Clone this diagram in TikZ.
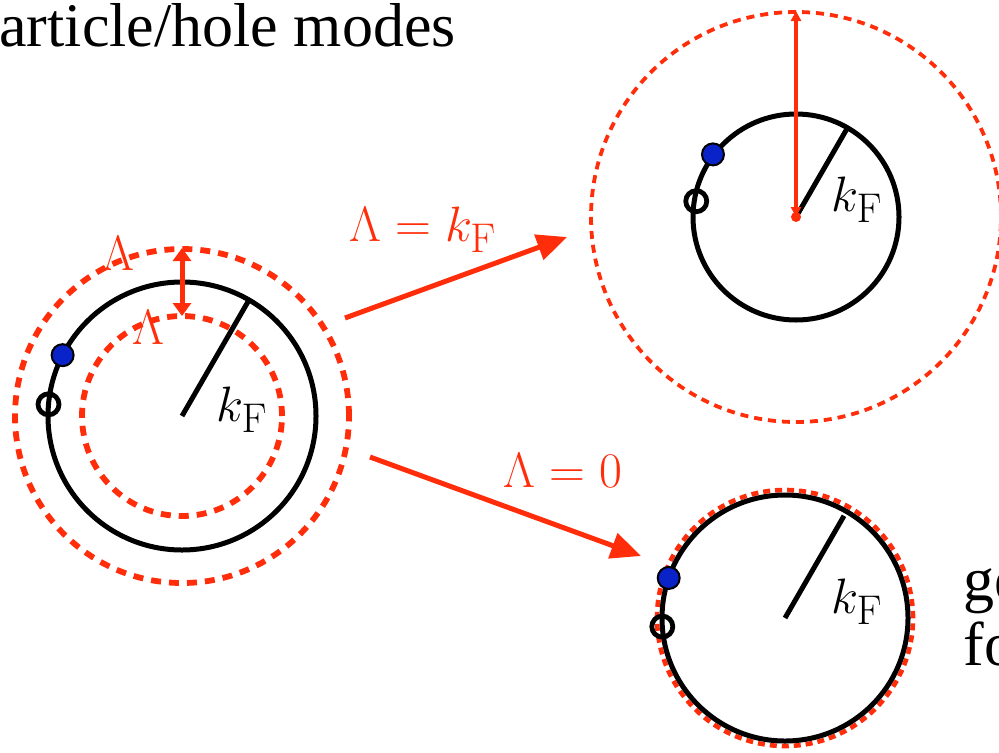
\documentclass[tikz,border=0pt]{standalone}
\usepackage[no-math]{fontspec}
\setmainfont{Liberation Serif}
\usetikzlibrary{arrows.meta,calc}
\definecolor{cutRed}{RGB}{255,45,10}
\definecolor{dotBlue}{RGB}{10,35,200}

\begin{document}
\begin{tikzpicture}[x=0.5pt,y=0.5pt,
  fermi/.style={draw=black,line width=2.5pt},
  cutoff/.style={draw=cutRed,line width=2.9pt,dash pattern=on 5pt off 4pt},
  particle/.style={circle,fill=dotBlue,draw=black,line width=1pt,minimum size=11pt,inner sep=0pt},
  hole/.style={circle,draw=black,line width=2.4pt,minimum size=10.5pt,inner sep=0pt},
  flow/.style={draw=cutRed,line width=2.5pt,-{Triangle[length=15pt,width=13pt]}},
  lbl/.style={font=\Huge,text=cutRed,inner sep=0pt},
  kf/.style={font=\Huge,inner sep=0pt},
  big/.style={anchor=base west,inner sep=0pt,font=\fontsize{31}{33}\selectfont}]
  % frame
  \useasboundingbox (0,0) rectangle (999,752);
  \clip (0,0) rectangle (999,752);
  % heading
  \node[big] (title) at (-1,705) {article/hole modes};
  % left: finite cutoff
  \coordinate (L) at (182,336);
  \draw[cutoff] (L) circle[radius=167];
  \draw[cutoff] (L) circle[radius=100];
  \draw[fermi] (L) circle[radius=134];
  \draw[fermi] (L) -- ++(60:133);
  \coordinate (Lhi) at (182,504);
  \coordinate (Llo) at (182,436);
  \draw[cutRed,line width=2.5pt,{Triangle[length=6.5pt,width=9pt]}-{Triangle[length=6.5pt,width=9pt]}] (Lhi) -- (Llo);
  \node[lbl] (Lam1) at (118,499) {$\Lambda$};
  \node[lbl] (Lam2) at (148,425) {$\Lambda$};
  \node[kf] (kL) at (242,342) {$k_{\mathrm{F}}$};
  \node[hole] (hL) at ($(L)+(175:134)$) {};
  \node[particle] (pL) at ($(L)+(153:134)$) {};
  % top right: Lambda = kF
  \coordinate (T) at (796,535);
  \draw[cutoff,line width=1.9pt,dash pattern=on 4pt off 3pt] (T) circle[radius=205];
  \draw[fermi] (T) circle[radius=103];
  \draw[fermi] (T) -- ++(60:102);
  \coordinate (Ttop) at (796,741);
  \fill[cutRed] (T) circle[radius=5];
  \draw[cutRed,line width=1.6pt,{Triangle[length=5pt,width=5pt]}-{Triangle[length=5pt,width=5pt]}] (Ttop) -- (T);
  \node[kf] (kT) at (857,552) {$k_{\mathrm{F}}$};
  \node[hole] (hT) at ($(T)+(171:101)$) {};
  \node[particle] (pT) at ($(T)+(143:104)$) {};
  % bottom right: Lambda = 0
  \coordinate (B) at (785,134);
  \draw[cutoff,line width=2.3pt,dash pattern=on 3.5pt off 2.5pt] (B) circle[radius=128];
  \draw[fermi] (B) circle[radius=123];
  \draw[fermi] (B) -- ++(60:118);
  \node[kf] (kB) at (857,150) {$k_{\mathrm{F}}$};
  \node[hole] (hB) at ($(B)+(184:123)$) {};
  \node[particle] (pB) at ($(B)+(161:123)$) {};
  \node[big] (ge) at (963,152) {ge};
  \node[big] (fo) at (963,87) {fo};
  % flow arrows
  \coordinate (up0) at (345,434);
  \coordinate (up1) at (567,515);
  \coordinate (dn0) at (370,295);
  \coordinate (dn1) at (641,196);
  \draw[flow] (up0) -- (up1);
  \draw[flow] (dn0) -- (dn1);
  \node[lbl] (lamkf) at (423,522) {$\Lambda = k_{\mathrm{F}}$};
  \node[lbl] (lamzero) at (563,282) {$\Lambda = 0$};
\end{tikzpicture}
\end{document}
